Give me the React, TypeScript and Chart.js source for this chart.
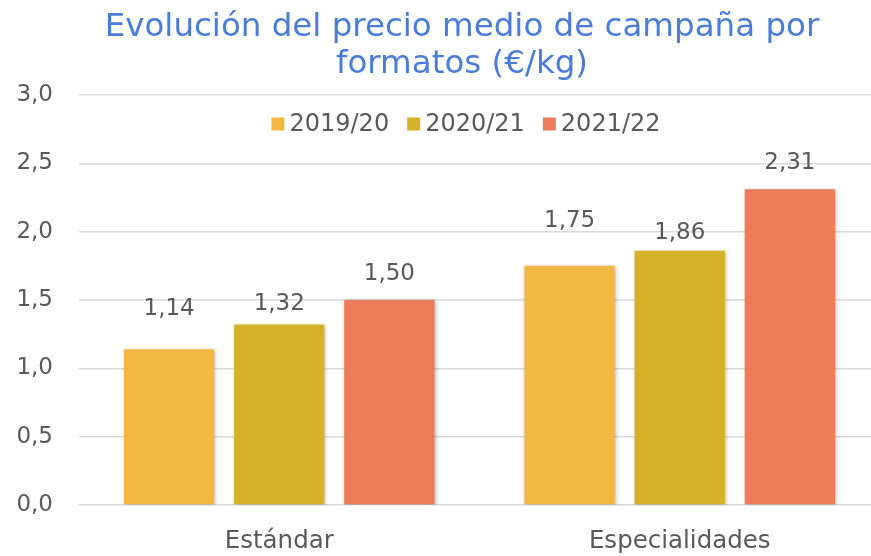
import React, { useEffect, useRef } from "react";
import { Chart, registerables } from "chart.js";

Chart.register(...registerables);

const categories = ["Estándar", "Especialidades"];
const seriesNames = ["2019/20", "2020/21", "2021/22"];
const values2019 = [1.14, 1.75];
const values2020 = [1.32, 1.86];
const values2021 = [1.5, 2.31];
const titleLines = ["Evolución del precio medio de campaña por", "formatos (€/kg)"];
const yTicks = [0, 0.5, 1.0, 1.5, 2.0, 2.5, 3.0];

const colors = ["#F1B843", "#D4B32B", "#EC7C5A"];
// label offset above bar top (px) per series, per category
const labelOffsets = [
  [40, 45],
  [21, 18],
  [26, 26],
];

const FONT = "'DejaVu Sans', sans-serif";
const GRAY = "#595959";

const fmt = (v: number, d: number) => v.toFixed(d).replace(".", ",");

export default function App() {
  const ref = useRef<HTMLCanvasElement | null>(null);

  useEffect(() => {
    document.body.style.margin = "0";
    const canvas = ref.current!;
    const titlePlugin = {
      id: "customTitle",
      afterDraw(chart: any) {
        const ctx = chart.ctx;
        ctx.save();
        ctx.fillStyle = "#4A7CD8";
        ctx.font = `32.5px ${FONT}`;
        ctx.textAlign = "center";
        ctx.textBaseline = "alphabetic";
        ctx.fillText(titleLines[0], 462, 36);
        ctx.fillText(titleLines[1], 462, 73);
        ctx.restore();
      },
    };
    const legendPlugin = {
      id: "customLegend",
      afterDraw(chart: any) {
        const ctx = chart.ctx;
        ctx.save();
        ctx.font = `24px ${FONT}`;
        ctx.textBaseline = "middle";
        ctx.textAlign = "left";
        const box = 13;
        const gap = 5;
        const spacing = 18;
        const widths = chart.data.datasets.map((d: any) => ctx.measureText(d.label).width);
        const total =
          widths.reduce((a: number, b: number) => a + b, 0) +
          widths.length * (box + gap) +
          (widths.length - 1) * spacing;
        let x = 466 - total / 2;
        const cy = 124;
        chart.data.datasets.forEach((d: any, i: number) => {
          ctx.fillStyle = d.backgroundColor;
          ctx.fillRect(x, cy - box / 2, box, box);
          x += box + gap;
          ctx.fillStyle = GRAY;
          ctx.fillText(d.label, x, cy + 1);
          x += widths[i] + spacing;
        });
        ctx.restore();
      },
    };
    const shadowPlugin = {
      id: "barShadow",
      beforeDatasetsDraw(chart: any) {
        const ctx = chart.ctx;
        ctx.save();
        ctx.shadowColor = "rgba(0,0,0,0.28)";
        ctx.shadowBlur = 4;
        ctx.shadowOffsetX = 1;
        ctx.shadowOffsetY = 1;
      },
      afterDatasetsDraw(chart: any) {
        chart.ctx.restore();
      },
    };
    const labelPlugin = {
      id: "valueLabels",
      afterDraw(chart: any) {
        const ctx = chart.ctx;
        ctx.save();
        ctx.font = `23px ${FONT}`;
        ctx.fillStyle = GRAY;
        ctx.textAlign = "center";
        ctx.textBaseline = "middle";
        chart.data.datasets.forEach((d: any, di: number) => {
          const meta = chart.getDatasetMeta(di);
          meta.data.forEach((bar: any, i: number) => {
            ctx.fillText(fmt(d.data[i], 2), bar.x, bar.y - labelOffsets[di][i]);
          });
        });
        ctx.restore();
      },
    };

    const chart = new Chart(canvas, {
      type: "bar",
      data: {
        labels: categories,
        datasets: [values2019, values2020, values2021].map((vals, i) => ({
          label: seriesNames[i],
          data: vals,
          backgroundColor: colors[i],
          borderWidth: 0,
          categoryPercentage: 0.825,
          barPercentage: 0.82,
        })),
      },
      options: {
        responsive: false,
        animation: false,
        devicePixelRatio: 1,
        layout: { padding: { top: 95, left: 0, right: 0, bottom: 0 } },
        plugins: {
          legend: { display: false },
          title: { display: false },
          tooltip: { enabled: false },
        },
        scales: {
          x: {
            grid: { display: false, drawTicks: false },
            border: { display: false },
            ticks: { color: GRAY, font: { family: FONT, size: 24.5 }, padding: 22 },
            afterFit: (axis: any) => {
              axis.height = 51;
            },
          },
          y: {
            min: 0,
            max: 3,
            afterBuildTicks: (axis: any) => {
              axis.ticks = yTicks.map((v) => ({ value: v }));
            },
            grid: { color: "#D9D9D9", lineWidth: 1.6, drawTicks: false },
            border: { display: false },
            ticks: {
              color: GRAY,
              font: { family: FONT, size: 23 },
              padding: 26,
              callback: (v: any) => fmt(Number(v), 1),
            },
            afterFit: (axis: any) => {
              axis.width = 79;
            },
          },
        },
      },
      plugins: [shadowPlugin, labelPlugin, legendPlugin, titlePlugin],
    });
    return () => chart.destroy();
  }, []);

  return (
    <div style={{ width: 871, height: 556, overflow: "hidden", position: "relative", background: "#fff" }}>
      <canvas ref={ref} width={880} height={556} style={{ display: "block" }} />
    </div>
  );
}
